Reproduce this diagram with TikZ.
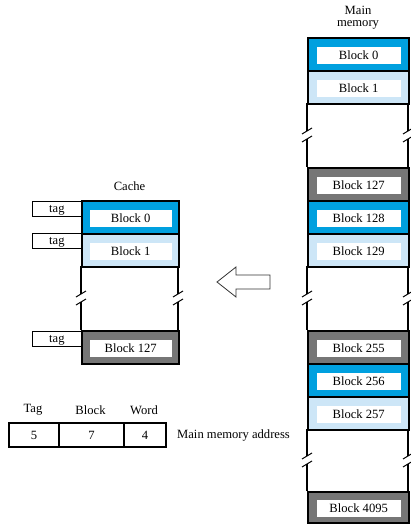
\documentclass[tikz,border=0pt]{standalone}
\usepackage{fontspec}
\setmainfont{Liberation Serif}
\definecolor{cyanB}{RGB}{0,160,223}
\definecolor{lightB}{RGB}{205,230,247}
\definecolor{grayB}{RGB}{118,118,118}
\begin{document}
\begin{tikzpicture}[x=1pt,y=-1pt,
  font=\fontsize{12.6}{14}\selectfont,
  mcell/.style={draw=black,line width=2.4pt,minimum width=101pt,minimum height=33pt,anchor=north west,inner sep=0pt},
  ccell/.style={draw=black,line width=2.4pt,minimum width=97pt,minimum height=33pt,anchor=north west,inner sep=0pt},
  mlabel/.style={fill=white,minimum width=84pt,minimum height=17pt,inner sep=0pt,yshift=-0.5pt},
  clabel/.style={fill=white,minimum width=82pt,minimum height=17pt,inner sep=0pt,yshift=-0.5pt},
  tagbox/.style={draw=black,line width=0.8pt,minimum width=49pt,minimum height=15pt,anchor=north west,inner sep=0pt},
  addr/.style={draw=black,line width=2pt,minimum height=24pt,anchor=north west,inner sep=0pt},
  brk/.style={line width=2.2pt},
  slash/.style={line width=1pt},
  plain/.style={inner sep=0pt}
]
\useasboundingbox (0,0) rectangle (411,524);

% ---------- Main memory ----------
\node[plain,align=center] (mmlabel) at (358,18) {Main\\[-2pt]memory};

\node[mcell,fill=cyanB]  (m0)   at (307,37)  {};
\node[mlabel] (m0t) at (m0.center) {Block 0};
\node[mcell,fill=lightB] (m1)   at (307,70)  {};
\node[mlabel] (m1t) at (m1.center) {Block 1};
\node[mcell,fill=grayB]  (m127) at (307,167) {};
\node[mlabel] (m127t) at (m127.center) {Block 127};
\node[mcell,fill=cyanB]  (m128) at (307,200) {};
\node[mlabel] (m128t) at (m128.center) {Block 128};
\node[mcell,fill=lightB] (m129) at (307,233) {};
\node[mlabel] (m129t) at (m129.center) {Block 129};
\node[mcell,fill=grayB]  (m255) at (307,330) {};
\node[mlabel] (m255t) at (m255.center) {Block 255};
\node[mcell,fill=cyanB]  (m256) at (307,363) {};
\node[mlabel] (m256t) at (m256.center) {Block 256};
\node[mcell,fill=lightB] (m257) at (307,396) {};
\node[mlabel] (m257t) at (m257.center) {Block 257};
\node[mcell,fill=grayB,minimum height=31pt] (m4095) at (307,491) {};
\node[mlabel] (m4095t) at (m4095.center) {Block 4095};

% gaps with break marks (main memory)
\foreach \x in {307,408}{
  \foreach \ya/\yb in {103/167,266/330,429/491}{
    \pgfmathsetmacro{\ym}{(\ya+\yb)/2}
    \draw[brk] (\x,\ya) -- (\x,\ym-4);
    \draw[brk] (\x,\ym+4) -- (\x,\yb);
    \draw[slash] (\x-5,\ym-1) -- (\x+5,\ym-7);
    \draw[slash] (\x-5,\ym+7) -- (\x+5,\ym+1);
  }
}

% ---------- Cache ----------
\node[plain] (cachelabel) at (129.5,186) {Cache};
\node[ccell,fill=cyanB]  (c0)   at (81,200) {};
\node[clabel] (c0t) at (c0.center) {Block 0};
\node[ccell,fill=lightB] (c1)   at (81,233) {};
\node[clabel] (c1t) at (c1.center) {Block 1};
\node[ccell,fill=grayB]  (c127) at (81,330) {};
\node[clabel] (c127t) at (c127.center) {Block 127};

\foreach \x in {81,178}{
    \pgfmathsetmacro{\ym}{298}
    \draw[brk] (\x,266) -- (\x,\ym-4);
    \draw[brk] (\x,\ym+4) -- (\x,330);
    \draw[slash] (\x-5,\ym-1) -- (\x+5,\ym-7);
    \draw[slash] (\x-5,\ym+7) -- (\x+5,\ym+1);
}

\node[tagbox] (t0)   at (32,201) {};
\node[plain] at ([yshift=-1pt]t0.center) {tag};
\node[tagbox] (t1)   at (32,233) {};
\node[plain] at ([yshift=-1pt]t1.center) {tag};
\node[tagbox] (t127) at (32,331) {};
\node[plain] at ([yshift=-1pt]t127.center) {tag};

% ---------- Arrow ----------
\draw[line width=0.8pt,draw=black!80]
  (217,282) -- (236,267) -- (236,275) -- (270,275) -- (270,289) -- (236,289) -- (236,297) -- cycle;

% ---------- Address ----------
\node[addr,minimum width=50pt] (atag) at (8,422) {};
\node[plain] at (atag.center) {5};
\node[addr,minimum width=65pt] (ablock) at (58,422) {};
\node[plain] at (ablock.center) {7};
\node[addr,minimum width=42pt] (aword) at (123,422) {};
\node[plain] at (aword.center) {4};
\node[plain] (ltag) at (33,410) {Tag};
\node[plain] (lblock) at (90.5,410) {Block};
\node[plain] (lword) at (144,410) {Word};
\node[plain,anchor=west] (maddr) at (177,435) {Main memory address};
\end{tikzpicture}
\end{document}
